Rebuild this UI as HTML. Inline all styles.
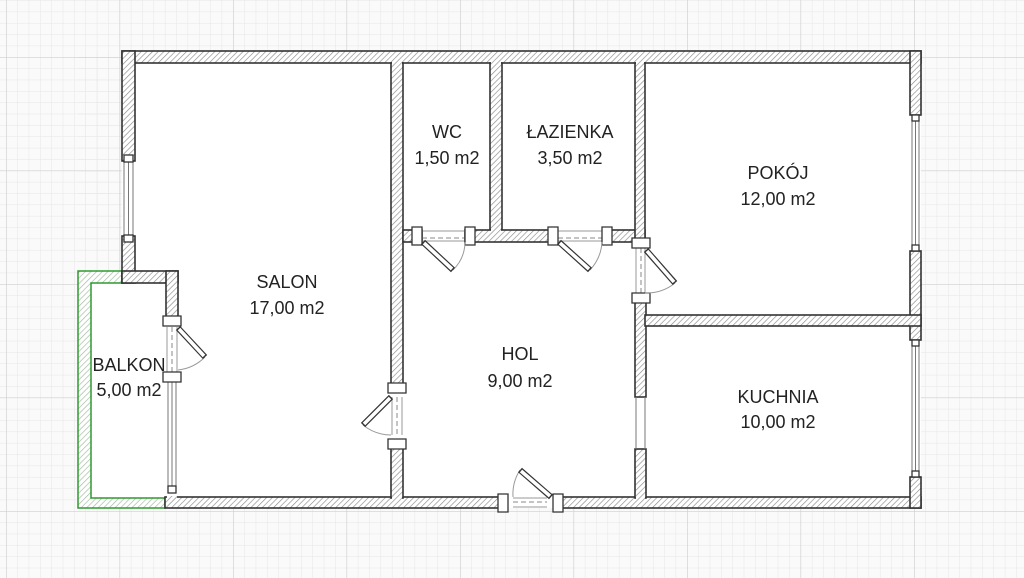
<!DOCTYPE html>
<html><head><meta charset="utf-8"><style>
html,body{margin:0;padding:0;background:#fff;}
svg{display:block;}
text{font-family:"Liberation Sans",sans-serif;font-size:18px;fill:#222;text-anchor:middle;}
</style></head><body>
<svg width="1024" height="578" viewBox="0 0 1024 578" xmlns="http://www.w3.org/2000/svg">
<defs>
<pattern id="minor" width="11.35" height="11.35" patternUnits="userSpaceOnUse" x="6" y="57">
<path d="M0 0V11.35M0 0H11.35" stroke="#e6e6e6" stroke-width="1" fill="none"/>
</pattern>
<pattern id="major" width="113.5" height="113.5" patternUnits="userSpaceOnUse" x="6" y="57">
<path d="M0 0V113.5M0 0H113.5" stroke="#cfcfcf" stroke-width="1.3" fill="none"/>
</pattern>
<pattern id="hatch" width="4" height="4" patternUnits="userSpaceOnUse" patternTransform="rotate(45)">
<rect width="4" height="4" fill="#fff"/>
<line x1="0" y1="0" x2="0" y2="4" stroke="#8a8a8a" stroke-width="1.3"/>
</pattern>
<pattern id="hatchg" width="4" height="4" patternUnits="userSpaceOnUse" patternTransform="rotate(45)">
<rect width="4" height="4" fill="#fff"/>
<line x1="0" y1="0" x2="0" y2="4" stroke="#9fb89f" stroke-width="1.3"/>
</pattern>
</defs>
<rect width="1024" height="578" fill="#fafafa"/>
<rect width="1024" height="578" fill="url(#minor)"/>
<rect width="1024" height="578" fill="url(#major)"/>

<rect x="122" y="51" width="799" height="457" fill="#fff"/>
<rect x="78" y="271" width="90" height="237" fill="#fff"/>
<rect x="78" y="51" width="44" height="220" fill="url(#minor)"/>
<rect x="78" y="51" width="44" height="220" fill="url(#major)"/>

<path d="M78 271H122V283H91V498H165V508H78Z" fill="url(#hatchg)" stroke="#2e9a2e" stroke-width="1.5"/>

<g fill="url(#hatch)" stroke="#333" stroke-width="1.6">
<rect x="122" y="51" width="799" height="12"/>
<rect x="122" y="51" width="13" height="110"/>
<rect x="122" y="236" width="13" height="47"/>
<rect x="122" y="271" width="56" height="12"/>
<rect x="166" y="271" width="12" height="49"/>
<rect x="165" y="497" width="338" height="11"/>
<rect x="557" y="497" width="364" height="11"/>
<rect x="910" y="51" width="11" height="64"/>
<rect x="910" y="251" width="11" height="89"/>
<rect x="910" y="477" width="11" height="31"/>
<rect x="391" y="63" width="12" height="325"/>
<rect x="391" y="445" width="12" height="53"/>
<rect x="490" y="63" width="12" height="167"/>
<rect x="403" y="230" width="19" height="12"/>
<rect x="465" y="230" width="88" height="12"/>
<rect x="607" y="230" width="38" height="12"/>
<rect x="635" y="63" width="10" height="177"/>
<rect x="635" y="300" width="11" height="97"/>
<rect x="635" y="449" width="11" height="49"/>
<rect x="645" y="315" width="276" height="11"/>
</g>
<g fill="url(#hatch)">
<rect x="123" y="52" width="11" height="11"/>
<rect x="392" y="52" width="10" height="12"/>
<rect x="491" y="52" width="10" height="12"/>
<rect x="636" y="52" width="8" height="12"/>
<rect x="911" y="52" width="9" height="12"/>
<rect x="392" y="229" width="10" height="14"/>
<rect x="491" y="229" width="10" height="2"/>
<rect x="636" y="229" width="8" height="12"/>
<rect x="911" y="316" width="9" height="9"/>
<rect x="167" y="496" width="10" height="3"/>
<rect x="392" y="496" width="10" height="3"/>
<rect x="636" y="496" width="9" height="3"/>
<rect x="911" y="496" width="9" height="11"/>
<rect x="123" y="272" width="11" height="10"/>
<rect x="167" y="272" width="10" height="10"/>
</g>

<g fill="none" stroke="#777" stroke-width="1">
<rect x="124" y="161" width="9" height="75"/>
<line x1="128.5" y1="161" x2="128.5" y2="236"/>
<rect x="912" y="115" width="7" height="136"/>
<line x1="915.5" y1="115" x2="915.5" y2="251"/>
<rect x="912" y="340" width="7" height="137"/>
<line x1="915.5" y1="340" x2="915.5" y2="477"/>
<rect x="168" y="382" width="8" height="110"/>
<line x1="172" y1="382" x2="172" y2="492"/>
<line x1="636" y1="397" x2="636" y2="449"/>
<line x1="645" y1="397" x2="645" y2="449"/>
</g>
<g fill="#fff" stroke="#333" stroke-width="1.3">
<rect x="124" y="155" width="9" height="7"/>
<rect x="124" y="235" width="9" height="7"/>
<rect x="912" y="115" width="7" height="6"/>
<rect x="912" y="245" width="7" height="6"/>
<rect x="912" y="340" width="7" height="6"/>
<rect x="912" y="471" width="7" height="6"/>
<rect x="168" y="486" width="8" height="7"/>
</g>

<g fill="none" stroke="#999" stroke-width="1">
<line x1="422" y1="231" x2="465" y2="231"/><line x1="422" y1="241" x2="465" y2="241"/>
<line x1="558" y1="231" x2="602" y2="231"/><line x1="558" y1="241" x2="602" y2="241"/>
<line x1="636" y1="248" x2="636" y2="293"/><line x1="645" y1="248" x2="645" y2="293"/>
<line x1="392" y1="397" x2="392" y2="435"/><line x1="402" y1="397" x2="402" y2="435"/>
<line x1="513" y1="498" x2="547" y2="498"/><line x1="513" y1="507" x2="547" y2="507"/>
<line x1="167" y1="327" x2="167" y2="372"/><line x1="177" y1="327" x2="177" y2="372"/>
</g>
<g fill="none" stroke="#888" stroke-width="1" stroke-dasharray="5,3">
<line x1="422" y1="238" x2="465" y2="238"/>
<line x1="558" y1="238" x2="602" y2="238"/>
<line x1="641" y1="248" x2="641" y2="293"/>
<line x1="397" y1="397" x2="397" y2="435"/>
<line x1="513" y1="502" x2="547" y2="502"/>
<line x1="172" y1="327" x2="172" y2="372"/>
</g>
<g fill="#fff" stroke="#333" stroke-width="1.3">
<path d="M412 227h10v18h-10z"/><path d="M465 227h10v18h-10z"/>
<path d="M548 227h10v18h-10z"/><path d="M602 227h10v18h-10z"/>
<path d="M632 238h18v10h-18z"/><path d="M632 293h18v10h-18z"/>
<path d="M388 383h18v10h-18z"/><path d="M388 439h18v10h-18z"/>
<path d="M498 494h10v18h-10z"/><path d="M553 494h10v18h-10z"/>
<path d="M163 316h18v10h-18z"/><path d="M163 372h18v10h-18z"/>
</g>
<g fill="none" stroke="#999" stroke-width="1">
<path d="M453 270 A40 40 0 0 0 465 242"/>
<path d="M590 270 A45 45 0 0 0 602 242"/>
<path d="M675 283 A45 45 0 0 1 645 293"/>
<path d="M363 425 A45 45 0 0 0 391 435"/>
<path d="M520 470 A45 45 0 0 0 513 497"/>
<path d="M205 357 A45 45 0 0 1 178 370"/>
</g>
<g stroke="#333" stroke-width="6" stroke-linecap="butt">
<line x1="423" y1="242" x2="453" y2="270"/>
<line x1="559" y1="242" x2="590" y2="270"/>
<line x1="646" y1="250" x2="675" y2="283"/>
<line x1="391" y1="397" x2="363" y2="425"/>
<line x1="551" y1="497" x2="520" y2="470"/>
<line x1="178" y1="328" x2="205" y2="357"/>
</g>
<g stroke="#fff" stroke-width="3.6">
<line x1="424" y1="243" x2="452" y2="269"/>
<line x1="560" y1="243" x2="589" y2="269"/>
<line x1="647" y1="251" x2="674" y2="282"/>
<line x1="390" y1="398" x2="364" y2="424"/>
<line x1="550" y1="496" x2="521" y2="471"/>
<line x1="179" y1="329" x2="204" y2="356"/>
</g>

<text x="447" y="138">WC</text><text x="447" y="164">1,50 m2</text>
<text x="570" y="138">ŁAZIENKA</text><text x="570" y="164">3,50 m2</text>
<text x="778" y="179">POKÓJ</text><text x="778" y="205">12,00 m2</text>
<text x="287" y="288">SALON</text><text x="287" y="314">17,00 m2</text>
<text x="520" y="360">HOL</text><text x="520" y="387">9,00 m2</text>
<text x="129" y="371">BALKON</text><text x="129" y="396">5,00 m2</text>
<text x="778" y="403">KUCHNIA</text><text x="778" y="428">10,00 m2</text>
</svg>
</body></html>
